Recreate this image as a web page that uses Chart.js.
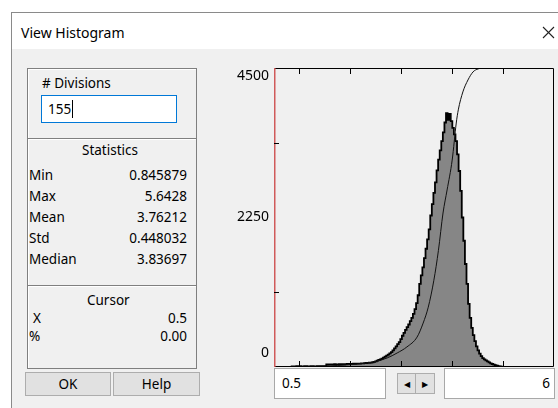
<!DOCTYPE html>
<html>
<head>
<meta charset="utf-8">
<title>View Histogram</title>
<script src="https://cdn.jsdelivr.net/npm/chart.js@4.4.1/dist/chart.umd.min.js"></script>
<style>
  html, body { margin: 0; padding: 0; }
  body { width: 558px; height: 408px; background: #fff; position: relative; overflow: hidden;
         font-family: "Noto Sans", "Open Sans", sans-serif; font-size: 13.5px; color: #000; }
  .dlg { position: absolute; left: 11px; top: 12px; width: 560px; height: 410px;
         border: 1px solid #8a8a8a; background: #f0f0f0; }
  .titlebar { position: absolute; left: 0; top: 0; right: 0; height: 36px; background: #fff; }
  .abs { position: absolute; white-space: nowrap; line-height: 16px; }
  .grp { position: absolute; left: 27px; width: 168px; border: 1px solid #7f7f7f;
         box-shadow: inset 1px 1px 0 #fff; }
  .val { position: absolute; width: 80px; text-align: right; }
  .btn { position: absolute; height: 22px; border: 1px solid #adadad; background: #e1e1e1;
         text-align: center; line-height: 22px; }
  .edit { position: absolute; background: #fff; border: 1px solid #a8a8a8; line-height: 28px; }
  #wrap { position: absolute; left: 230px; top: 60px; width: 328px; height: 312px; }
</style>
</head>
<body>
<div class="dlg"><div class="titlebar"></div></div>
<div class="abs" style="left:21px;top:25px;font-size:14px;">View Histogram</div>
<svg style="position:absolute;left:542px;top:26px" width="13" height="13">
  <line x1="1" y1="1" x2="12" y2="12" stroke="#222" stroke-width="1.1"/>
  <line x1="12" y1="1" x2="1" y2="12" stroke="#222" stroke-width="1.1"/>
</svg>

<!-- left panel -->
<div class="grp" style="top:68px;height:70px;"></div>
<div class="grp" style="top:138px;height:147px;"></div>
<div class="grp" style="top:285px;height:82px;"></div>

<div class="abs" style="left:42px;top:75px;"># Divisions</div>
<div class="edit" style="left:41px;top:95px;width:134px;height:26px;border-color:#0078d7;line-height:26px;">
  <span style="padding-left:6px;border-right:1px solid #000;padding-right:1px;">155</span>
</div>

<div class="abs" style="left:82px;top:142px;">Statistics</div>

<div class="abs" style="left:87px;top:292px;">Cursor</div>
<div class="abs" style="left:33px;top:310px;">X</div>
<div class="val abs" style="left:107px;top:310px;">0.5</div>
<div class="abs" style="left:29px;top:328px;">%</div>
<div class="val abs" style="left:107px;top:328px;">0.00</div>

<div class="btn" style="left:25px;top:372px;width:84px;">OK</div>
<div class="btn" style="left:113px;top:372px;width:85px;">Help</div>

<!-- chart -->
<div id="wrap"><canvas id="hist" width="328" height="312"></canvas></div>

<div class="edit" style="left:274px;top:368px;width:110px;height:29px;">
  <span style="padding-left:7px;">0.5</span>
</div>
<div class="btn" style="left:397px;top:373px;width:17px;height:19px;line-height:19px;font-size:8px;">&#9664;</div>
<div class="btn" style="left:415px;top:373px;width:18px;height:19px;line-height:19px;font-size:8px;">&#9654;</div>
<div class="edit" style="left:444px;top:368px;width:109px;height:29px;text-align:right;">
  <span style="padding-right:4px;">6</span>
</div>

<script>
'use strict'

// statistics shown in the left panel
const statNames = ['Min', 'Max', 'Mean', 'Std', 'Median'];
const statValues = ['0.845879', '5.6428', '3.76212', '0.448032', '3.83697'];

// histogram: 155 divisions between min and max
const divisions = 155;
const dataMin = 0.845879;
const dataMax = 5.6428;
const binCounts = [
    8, 10, 9, 12, 10, 11, 9, 10, 12, 11,
    10, 9, 11, 12, 10, 10, 11, 13, 12, 10,
    11, 12, 38, 40, 41, 40, 39, 42, 40, 41,
    43, 40, 42, 41, 44, 46, 47, 45, 48, 50,
    49, 51, 50, 52, 54, 56, 58, 60, 62, 64,
    65, 70, 78, 85, 95, 105, 115, 125, 140, 155,
    170, 185, 205, 225, 250, 280, 310, 345, 375, 420,
    470, 515, 560, 600, 640, 690, 740, 800, 870, 960,
    1080, 1250, 1380, 1500, 1640, 1780, 1920, 2070, 2280, 2450,
    2620, 2780, 2960, 3120, 3260, 3400, 3530, 3680, 3820, 3720,
    3810, 3700, 3600, 3500, 3400, 3200, 2950, 2650, 2250, 1900,
    1550, 1250, 950, 740, 590, 480, 390, 310, 250, 200,
    165, 135, 115, 100, 85, 70, 55, 45, 35, 28,
    20, 14, 9, 5, 3, 3, 2, 2, 1, 1,
    1, 1, 0, 0, 0, 0, 0, 0, 0, 0,
    0, 0, 0, 0, 1
];

// cumulative curve (percent of total)
const cdfX = [0.85, 1.5, 2.0, 2.45, 2.72, 2.92, 3.11, 3.31, 3.43, 3.53, 3.64, 3.73, 3.82, 3.90, 4.00, 4.08, 4.12, 4.21, 4.31, 4.41, 4.51, 4.60, 5.64];
const cdfPct = [0, 0.3, 0.8, 1.7, 3, 4.7, 6.7, 10, 14.7, 20, 29, 39, 51.5, 59.2, 69.2, 81.6, 86, 92, 96, 98.7, 99.7, 100, 100];

// axis
const xMin = 0.5;
const xMax = 6;
const yMax = 4500;
const yLabels = [0, 2250, 4500];
const yTickMarks = [1125, 3375];
const xTickMarks = [1, 2, 3, 4, 5];

// stats rows
statNames.forEach((name, i) => {
    const top = 167 + i * 21;
    const l = document.createElement('div');
    l.className = 'abs';
    l.style.left = '29px';
    l.style.top = top + 'px';
    l.textContent = name;
    document.body.appendChild(l);
    const v = document.createElement('div');
    v.className = 'val abs';
    v.style.left = '107px';
    v.style.top = top + 'px';
    v.textContent = statValues[i];
    document.body.appendChild(v);
});

const binWidth = (dataMax - dataMin) / divisions;
const histPoints = [{ x: dataMin, y: 0 }];
binCounts.forEach((c, i) => histPoints.push({ x: dataMin + i * binWidth, y: c }));
histPoints.push({ x: dataMax, y: 0 });

const cdfPoints = cdfX.map((x, i) => ({ x: x, y: cdfPct[i] }));

// frame, inward ticks and y labels like the old win32 control
const framePlugin = {
    id: 'frame',
    afterDatasetsDraw(chart) {
        const ctx = chart.ctx;
        const a = chart.chartArea;
        const xs = chart.scales.x;
        const ys = chart.scales.y;
        ctx.save();
        ctx.strokeStyle = '#000';
        ctx.lineWidth = 1;
        ctx.beginPath();
        ctx.moveTo(a.left, a.top + 0.5);
        ctx.lineTo(a.right - 0.5, a.top + 0.5);
        ctx.lineTo(a.right - 0.5, a.bottom - 0.5);
        ctx.lineTo(a.left, a.bottom - 0.5);
        ctx.stroke();
        ctx.strokeStyle = '#d05a5a';
        ctx.lineWidth = 1.5;
        ctx.beginPath();
        ctx.moveTo(a.left + 0.75, a.top);
        ctx.lineTo(a.left + 0.75, a.bottom);
        ctx.stroke();

        ctx.strokeStyle = '#000';
        ctx.lineWidth = 1;
        ctx.beginPath();
        xTickMarks.forEach(v => {
            const px = Math.round(xs.getPixelForValue(v)) + 0.5;
            ctx.moveTo(px, a.top);
            ctx.lineTo(px, a.top + 6);
            ctx.moveTo(px, a.bottom);
            ctx.lineTo(px, a.bottom - 6);
        });
        yTickMarks.forEach(v => {
            const py = Math.round(ys.getPixelForValue(v)) + 0.5;
            ctx.moveTo(a.left, py);
            ctx.lineTo(a.left + 5, py);
        });
        ctx.stroke();

        ctx.fillStyle = '#000';
        ctx.font = '14px "Noto Sans"';
        ctx.textAlign = 'right';
        ctx.textBaseline = 'middle';
        yLabels.forEach(v => {
            let py = ys.getPixelForValue(v);
            if (v === yMax) py += 8;
            if (v === 0) py -= 14;
            ctx.fillText(String(v), a.left - 5, py);
        });
        ctx.restore();
    }
};

const histChart = new Chart(document.getElementById('hist').getContext('2d'), {
    type: 'line',
    data: {
        datasets: [{
            label: 'Cumulative',
            data: cdfPoints,
            yAxisID: 'y2',
            borderColor: '#111',
            borderWidth: 1,
            pointRadius: 0,
            cubicInterpolationMode: 'monotone',
            fill: false,
            order: 0
        },
        {
            label: 'Count',
            data: histPoints,
            yAxisID: 'y',
            stepped: 'before',
            borderColor: '#000',
            borderWidth: 1.8,
            backgroundColor: '#868686',
            pointRadius: 0,
            fill: 'origin',
            order: 1
        }]
    },
    options: {
        responsive: false,
        animation: false,
        devicePixelRatio: 1,
        layout: { padding: { left: 44, top: 8, right: 4, bottom: 5 } },
        plugins: { legend: { display: false }, tooltip: { enabled: false } },
        scales: {
            x: { type: 'linear', min: xMin, max: xMax, display: false },
            y: { min: 0, max: yMax, display: false },
            y2: { min: 0, max: 100, display: false }
        }
    },
    plugins: [framePlugin]
});
</script>
</body>
</html>
